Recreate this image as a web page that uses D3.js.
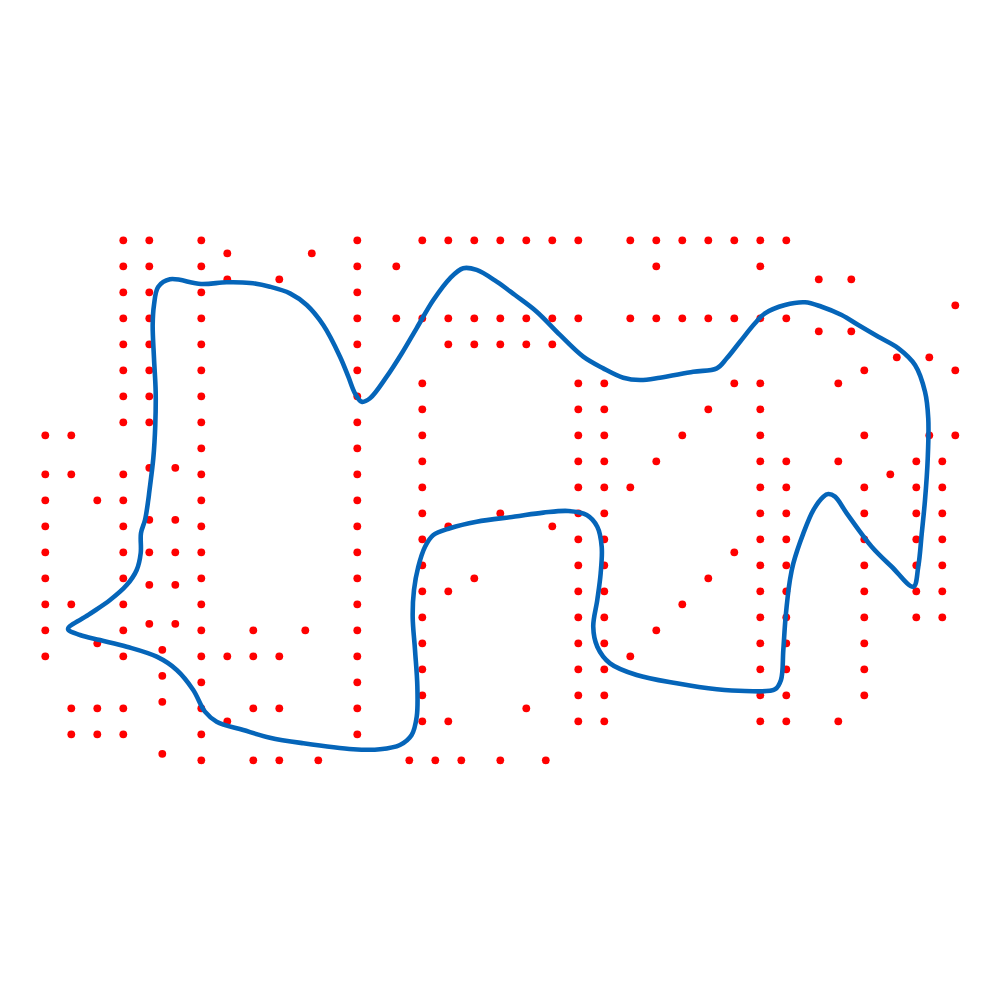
<!DOCTYPE html>
<html>
<head>
<meta charset="utf-8">
<script src="https://cdn.jsdelivr.net/npm/d3@7"></script>
<style>
  html, body { margin: 0; padding: 0; background: #ffffff; }
  svg { display: block; }
</style>
</head>
<body>
<div id="chart"></div>
<script>
// ---------- DATA ----------
// Red point columns (x values) and the y values present in each column
const dotColumns = [0, 2, 4, 6, 8, 9, 10, 12, 14, 16, 18, 20, 20.5, 21, 24, 27, 28, 29, 30, 31, 32, 33, 35, 37, 38.5, 39, 41, 43, 45, 47, 49, 51, 53, 55, 57, 59.5, 61, 62, 63, 65, 65.5, 67, 68, 69, 70];
const dotColumnYs = [
  [25, 22, 20, 18, 16, 14, 12, 10, 8],
  [25, 22, 12, 4, 2],
  [20, 9, 4, 2],
  [40, 38, 36, 34, 32, 30, 28, 26, 22, 20, 18, 16, 14, 12, 10, 8, 4, 2],
  [40, 38, 36, 34, 32, 30, 28, 26, 22.5, 18.5, 16, 13.5, 10.5],
  [8.5, 6.5, 4.5, 0.5],
  [22.5, 18.5, 16, 13.5, 10.5],
  [40, 38, 36, 34, 32, 30, 28, 26, 24, 22, 20, 18, 16, 14, 12, 10, 8, 6, 4, 2, 0],
  [39, 37, 8, 3],
  [10, 8, 4, 0],
  [37, 8, 4, 0],
  [10],
  [39],
  [0],
  [40, 38, 36, 34, 32, 30, 28, 26, 24, 22, 20, 18, 16, 14, 12, 10, 8, 6, 4, 2],
  [38, 34],
  [0],
  [40, 34, 29, 27, 25, 23, 21, 19, 17, 15, 13, 11, 9, 7, 5, 3],
  [0],
  [40, 34, 32, 18, 13, 3],
  [0],
  [40, 34, 32, 14],
  [40, 34, 32, 19, 0],
  [40, 34, 32, 4],
  [0],
  [40, 34, 32, 18],
  [40, 34, 29, 27, 25, 23, 21, 19, 17, 15, 13, 11, 9, 7, 5, 3],
  [29, 27, 25, 23, 21, 19, 17, 15, 13, 11, 9, 7, 5, 3],
  [40, 34, 21, 8],
  [40, 38, 34, 23, 10],
  [40, 34, 25, 12],
  [40, 34, 27, 14],
  [40, 34, 29, 16],
  [40, 38, 34, 29, 27, 25, 23, 21, 19, 17, 15, 13, 11, 9, 7, 5, 3],
  [40, 34, 23, 21, 19, 17, 15, 13, 11, 9, 7, 5, 3],
  [37, 33],
  [29, 23, 3],
  [37, 33],
  [30, 25, 21, 19, 17, 15, 13, 11, 9, 7, 5],
  [22],
  [31],
  [23, 21, 19, 17, 15, 13, 11],
  [31, 25],
  [23, 21, 19, 17, 15, 13, 11],
  [35, 30, 25]
];

// Blue closed curve (traced vertices, same units as points)
const curveX = [9.59, 11.98, 13.95, 15.75, 17.28, 18.82, 20.11, 21.38,
  22.67, 23.31, 23.82, 24.34, 24.98, 26.26, 27.44,
  28.57, 29.85, 31.13, 32.15, 33.18, 34.72,
  36.13, 37.8, 39.59, 41.38, 42.92, 44.46, 45.75, 47.28, 49.85, 51.65,
  52.42, 53.44, 54.59, 55.36, 56.9, 58.44, 59.72, 61.26, 62.54, 64.08,
  65.62, 66.9, 67.67, 67.92, 67.88, 67.67, 67.42, 67.15, 66.77, 65.11,
  63.57, 61.65, 60.75, 60.23, 59.85, 59.08, 58.31, 57.54,
  57.28, 56.95, 56.77,
  56.59, 56.13, 53.82, 51.65, 48.57, 45.49, 43.44, 42.46, 42.15, 42.46,
  42.72, 42.8, 42.46, 41.65, 40.23, 38.31, 36.13, 33.18, 31.13, 29.85,
  29.21, 28.69, 28.36, 28.26, 28.44, 28.62, 28.57, 28.18, 27.28, 25.75,
  23.69, 19.85, 17.28, 15.23, 13.18, 12.28, 11.38, 10.11, 8.57, 6.26,
  4.21, 2.67, 1.75, 3.31, 4.98, 6.26, 7.03, 7.34, 7.36, 7.67,
  7.92, 8.0, 8.31, 8.46, 8.49, 8.36, 8.26, 8.36, 8.69];
const curveY = [37.0, 36.64, 36.77, 36.72, 36.43, 35.92, 35.02, 33.48,
  31.05, 29.51, 28.23, 27.58, 27.85, 29.51, 31.33,
  33.25, 35.41, 37.08, 37.85, 37.72, 36.82,
  35.79, 34.51, 32.72, 31.05, 30.15, 29.43, 29.25, 29.43, 29.89, 30.15,
  30.92, 32.2, 33.62, 34.38, 35.02, 35.23, 34.89, 34.25, 33.48, 32.58,
  31.69, 30.41, 28.35, 26.31, 23.23, 20.02, 17.46, 14.89, 13.35, 14.89,
  16.43, 19.0, 20.28, 20.48, 20.28, 19.25, 17.46, 15.15,
  13.87, 11.05, 8.48,
  6.18, 5.46, 5.33, 5.46, 5.92, 6.56, 7.46, 8.74, 10.28, 12.33,
  14.38, 16.43, 17.97, 18.87, 19.18, 19.05, 18.75, 18.35, 17.85, 17.33,
  16.43, 14.89, 13.1, 11.05, 8.48, 5.66, 3.35, 1.95, 1.18, 0.85,
  0.85, 1.31, 1.74, 2.33, 2.97, 3.74, 5.41, 6.95, 7.97, 8.74,
  9.25, 9.64, 10.1, 11.18, 12.33, 13.48, 14.64, 15.95, 17.48, 18.48,
  20.02, 20.66, 23.25, 25.79, 28.35, 30.95, 33.48, 35.02, 36.43];

// ---------- CHART ----------
const W = 1000, H = 1000;
const svg = d3.select("#chart").append("svg").attr("width", W).attr("height", H);

const x = d3.scaleLinear().domain([0, 70]).range([45.3, 955.3]);
const y = d3.scaleLinear().domain([0, 40]).range([760.3, 240.3]);

const dots = [];
dotColumns.forEach((cx, k) => dotColumnYs[k].forEach(cy => dots.push({ x: cx, y: cy })));

svg.append("g").selectAll("circle")
  .data(dots)
  .join("circle")
  .attr("cx", d => x(d.x))
  .attr("cy", d => y(d.y))
  .attr("r", 3.9)
  .attr("fill", "#ff0000");

const pts = curveX.map((v, k) => [v, curveY[k]]);
const line = d3.line()
  .x(d => x(d[0]))
  .y(d => y(d[1]))
  .curve(d3.curveCatmullRomClosed.alpha(0.5));

svg.append("path")
  .attr("d", line(pts))
  .attr("fill", "none")
  .attr("stroke", "#0565b9")
  .attr("stroke-width", 4.6)
  .attr("stroke-linejoin", "round")
  .attr("stroke-linecap", "round");
</script>
</body>
</html>
